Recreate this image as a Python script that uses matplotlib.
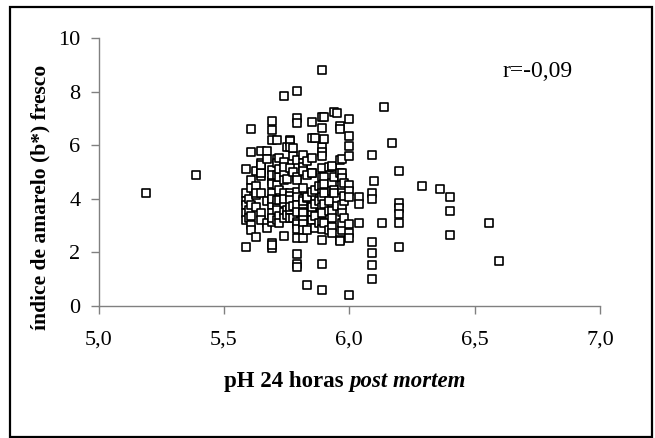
import matplotlib
matplotlib.use("Agg")
import matplotlib.pyplot as plt
from matplotlib.patches import Rectangle

# pH 24 h post mortem (x) and yellowness index b* (y)
ph = [
    5.19, 5.39,
    5.59, 5.59, 5.59, 5.59, 5.59, 5.59, 5.59, 5.60, 5.60, 5.60,
    5.61, 5.61, 5.61, 5.61, 5.61, 5.61, 5.61, 5.61,
    5.63, 5.63, 5.63, 5.63, 5.63, 5.63,
    5.65, 5.65, 5.65, 5.65, 5.65, 5.65, 5.65, 5.65, 5.65,
    5.67, 5.67, 5.67, 5.67, 5.67,
    5.69, 5.69, 5.69, 5.69, 5.69, 5.69, 5.69, 5.69, 5.69, 5.69, 5.69, 5.69, 5.69, 5.69, 5.69, 5.69, 5.69,
    5.71, 5.71, 5.71, 5.71, 5.71, 5.71, 5.71, 5.71, 5.71,
    5.72, 5.72, 5.72, 5.72, 5.72, 5.72, 5.72,
    5.74, 5.74, 5.74, 5.74, 5.74, 5.74, 5.74, 5.74, 5.74, 5.74, 5.74,
    5.75, 5.75, 5.75, 5.75,
    5.765, 5.765, 5.765, 5.765, 5.765, 5.765, 5.765, 5.765, 5.765, 5.765,
    5.776, 5.776, 5.776, 5.776, 5.776,
    5.79, 5.79, 5.79, 5.79, 5.79, 5.79, 5.79, 5.79, 5.79, 5.79, 5.79, 5.79, 5.79, 5.79, 5.79, 5.79, 5.79,
    5.816, 5.816, 5.816, 5.816, 5.816, 5.816, 5.816, 5.816, 5.816, 5.816, 5.816, 5.816, 5.816, 5.816,
    5.83, 5.83, 5.83, 5.83, 5.83, 5.83,
    5.85, 5.85, 5.85, 5.85, 5.85, 5.85, 5.85, 5.85, 5.85, 5.85, 5.85,
    5.865, 5.865, 5.865, 5.865, 5.865,
    5.88, 5.88, 5.88,
    5.89, 5.89, 5.89, 5.89, 5.89, 5.89, 5.89, 5.89, 5.89, 5.89, 5.89, 5.89, 5.89, 5.89, 5.89, 5.89, 5.89, 5.89,
    5.90, 5.90, 5.90, 5.90, 5.90, 5.90, 5.90,
    5.92, 5.92, 5.92, 5.92,
    5.93, 5.93, 5.93, 5.93, 5.93, 5.93, 5.93, 5.93,
    5.94, 5.94, 5.94, 5.94,
    5.95, 5.95,
    5.965, 5.965, 5.965, 5.965, 5.965, 5.965,
    5.97, 5.97, 5.97, 5.97, 5.97, 5.97, 5.97, 5.97, 5.97,
    5.98, 5.98, 5.98, 5.98,
    6.00, 6.00, 6.00, 6.00, 6.00, 6.00, 6.00, 6.00, 6.00, 6.00, 6.00,
    6.04, 6.04, 6.04,
    6.09, 6.09, 6.09, 6.09, 6.09, 6.09, 6.09,
    6.10, 6.13, 6.14, 6.17,
    6.20, 6.20, 6.20, 6.20, 6.20, 6.20,
    6.29, 6.36,
    6.40, 6.40, 6.40,
    6.556, 6.596,
]
b_star = [
    4.20, 4.90,
    5.13, 4.23, 3.90, 3.77, 3.46, 3.21, 2.22, 4.00, 3.60, 3.30,
    6.62, 5.73, 4.70, 4.40, 3.77, 3.34, 3.03, 2.84,
    2.59, 4.46, 4.15, 5.02, 4.20, 3.70,
    5.80, 5.35, 5.10, 4.86, 4.21, 3.46, 3.21, 4.96, 5.27,
    5.80, 5.50, 3.10, 2.90, 3.90,
    6.92, 6.58, 6.18, 5.08, 4.65, 4.89, 4.56, 4.21, 3.90, 3.77, 3.46, 3.15, 2.34, 2.15, 2.28, 3.30, 4.00,
    6.20, 5.48, 5.33, 4.52, 3.77, 3.21, 3.60, 4.90, 3.95,
    5.52, 4.83, 4.33, 3.96, 3.34, 5.10, 3.10,
    7.85, 5.39, 4.96, 4.71, 4.23, 3.84, 3.52, 3.28, 2.62, 4.00, 5.20,
    5.95, 4.73, 3.60, 3.40,
    6.18, 6.14, 5.93, 5.14, 4.21, 4.11, 3.96, 3.59, 3.30, 3.70,
    5.58, 5.89, 5.00, 3.75, 3.30,
    8.03, 7.01, 6.82, 5.45, 4.83, 4.71, 4.27, 4.08, 3.77, 3.15, 3.06, 2.86, 2.53, 1.94, 1.57, 1.47, 3.50,
    5.64, 5.33, 5.18, 5.02, 4.40, 3.71, 3.52, 3.46, 3.21, 3.06, 2.84, 2.53, 4.00, 3.90,
    4.89, 4.02, 4.06, 2.84, 0.78, 5.40,
    6.85, 6.26, 5.52, 4.98, 4.96, 4.27, 3.34, 3.46, 3.52, 3.21, 3.70,
    6.26, 4.31, 3.80, 3.35, 2.90,
    4.46, 3.90, 3.10,
    8.79, 7.05, 6.64, 5.93, 5.73, 5.58, 5.14, 4.46, 4.23, 4.08, 3.71, 3.46, 3.15, 2.86, 2.47, 1.57, 0.60, 4.80,
    7.07, 6.23, 4.80, 4.56, 4.21, 3.80, 3.10,
    3.56, 5.20, 2.84, 3.90,
    5.20, 5.21, 4.58, 3.56, 2.96, 2.74, 4.30, 3.30,
    7.24, 4.83, 4.31, 4.23,
    7.20, 3.75,
    6.70, 6.60, 2.47, 2.44, 4.98, 5.43,
    5.48, 4.98, 4.77, 4.31, 3.52, 2.84, 3.77, 4.50, 3.10,
    4.58, 3.90, 3.28, 4.10,
    6.99, 6.33, 5.97, 5.58, 4.52, 4.30, 4.08, 3.06, 2.71, 2.52, 0.41,
    4.06, 3.79, 3.11,
    5.64, 4.23, 4.01, 2.37, 1.97, 1.53, 1.01,
    4.67, 3.11, 7.43, 6.08,
    5.04, 3.86, 3.65, 3.42, 3.11, 2.22,
    4.46, 4.38,
    4.07, 3.56, 2.65,
    3.11, 1.68,
]

x_ticks = [5.0, 5.5, 6.0, 6.5, 7.0]
x_tick_labels = ["5,0", "5,5", "6,0", "6,5", "7,0"]
y_ticks = [0, 2, 4, 6, 8, 10]
y_tick_labels = ["0", "2", "4", "6", "8", "10"]
annotation = "r=-0,09"

plt.rcParams['font.family'] = ['Liberation Serif', 'DejaVu Serif']

W, H = 655, 438
fig = plt.figure(figsize=(W / 100, H / 100), dpi=100)
fig.patch.set_facecolor("white")

# outer frame
fig.add_artist(Rectangle((10 / W, 1 - 437 / H), (652 - 10) / W, (437 - 7) / H,
                         transform=fig.transFigure, fill=False,
                         edgecolor="black", linewidth=1.6))

ax = fig.add_axes([98.5 / W, 1 - 306 / H, (600 - 98.5) / W, (306 - 38) / H])
ax.scatter(ph, b_star, marker="s", s=26, facecolors="white",
           edgecolors="black", linewidths=1.2, zorder=3, clip_on=False)

ax.set_xlim(5.0, 7.0)
ax.set_ylim(0, 10)
ax.set_xticks(x_ticks)
ax.set_xticklabels(x_tick_labels)
ax.set_yticks(y_ticks)
ax.set_yticklabels(y_tick_labels)

gray = "#808080"
for s in ["top", "right"]:
    ax.spines[s].set_visible(False)
for s in ["left", "bottom"]:
    ax.spines[s].set_color(gray)
    ax.spines[s].set_linewidth(1.0)
ax.tick_params(axis="both", colors=gray, labelcolor="black", direction="out",
               length=6, width=1.0, labelsize=16)
ax.tick_params(axis="x", pad=12)
ax.tick_params(axis="y", pad=7)

t1 = fig.text(224 / W, 1 - 381 / H, "pH 24 horas ", ha="left", va="center",
              fontsize=16.5, fontweight="bold")
fig.canvas.draw()
bb = t1.get_window_extent()
fig.text(bb.x1 / W, 1 - 381 / H, "post mortem", ha="left", va="center",
         fontsize=16.5, fontweight="bold", style="italic")

fig.text(40 / W, 1 - 197 / H, "índice de amarelo (b*) fresco", rotation=90,
         ha="center", va="center", fontsize=15.5, fontweight="bold")

ax.text(6.75, 8.74, annotation, ha="center", va="center", fontsize=17)

fig.savefig("out.png", dpi=100, facecolor="white")
